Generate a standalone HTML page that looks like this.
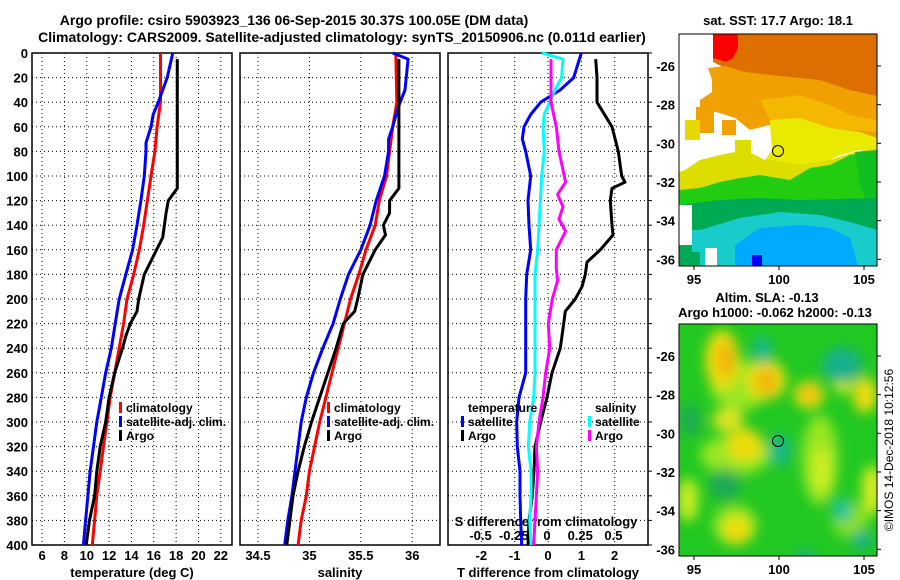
<!DOCTYPE html>
<html><head><meta charset="utf-8"><style>
body{margin:0;background:#fff;}
svg{display:block;font-family:"Liberation Sans",sans-serif;font-weight:bold;}
</style></head><body>
<svg id="c" width="900" height="580" viewBox="0 0 900 580" xmlns="http://www.w3.org/2000/svg">
<defs>
<filter id="bl" x="-50%" y="-50%" width="200%" height="200%"><feGaussianBlur stdDeviation="6"/></filter>
<clipPath id="cm1"><rect x="679" y="34" width="198" height="232"/></clipPath>
<clipPath id="cm2"><rect x="679" y="324" width="198" height="232"/></clipPath>
</defs>
<text x="294" y="25" font-size="14" text-anchor="middle">Argo profile: csiro 5903923_136 06-Sep-2015 30.37S 100.05E (DM data)</text>
<text x="342" y="42" font-size="14" text-anchor="middle">Climatology: CARS2009. Satellite-adjusted climatology: synTS_20150906.nc (0.011d earlier)</text>
<g id="plots"></g>
<!-- SST map -->
<g clip-path="url(#cm1)">
<rect x="679" y="34" width="198" height="232" fill="#fff"/>
<polygon points="713,34 877,34 877,98 850,92 820,82 790,78 760,76 740,72 725,68 713,62" fill="#dd6e00"/>
<polygon points="713,34 738,34 738,48 733,58 726,62 713,58" fill="#ff0000"/>
<polygon points="708,68 725,66 745,72 780,76 820,80 850,90 877,96 877,140 840,135 800,128 770,125 750,130 735,118 716,112 700,110 700,100 712,92 712,80" fill="#f0a000"/>
<polygon points="760,100 800,95 830,105 850,115 877,120 877,132 850,130 820,130 790,125 770,120" fill="#f5b800"/>
<polygon points="770,120 800,118 830,128 860,132 877,138 877,152 860,150 840,155 820,165 790,170 770,172 760,165 770,150" fill="#eaea00"/>
<polygon points="685,170 700,160 720,155 745,150 770,160 800,165 830,160 855,152 877,148 877,205 679,205 679,172" fill="#dddd00"/>
<polygon points="679,190 700,188 720,182 740,178 760,175 790,180 810,168 830,165 850,155 877,150 877,205 850,205 800,208 760,205 720,210 679,212" fill="#22cc11"/>
<polygon points="855,152 877,150 877,200 868,205 860,185" fill="#11c020"/>
<polygon points="679,205 720,200 760,198 800,200 877,198 877,266 679,266" fill="#00aa55"/>
<polygon points="700,230 740,218 780,212 820,215 850,222 877,230 877,266 700,266" fill="#18cccc"/>
<polygon points="735,245 760,228 800,225 830,228 850,238 858,266 735,266" fill="#00aaff"/>
<polygon points="679,34 713,34 713,62 708,68 712,80 712,92 700,100 700,110 690,120 679,125" fill="#fff"/>
<polygon points="679,125 690,120 700,110 696,135 702,150 690,160 679,165" fill="#fff"/>
<polygon points="716,112 735,118 750,130 770,125 772,150 765,160 745,150 728,150 718,135" fill="#fff"/>
<rect x="696" y="107" width="18" height="26" fill="#f0a000"/>
<rect x="685" y="120" width="15" height="20" fill="#e6d800"/>
<rect x="722" y="120" width="14" height="15" fill="#f0a000"/>
<rect x="735" y="140" width="16" height="15" fill="#dddd00"/>
<rect x="679" y="205" width="13" height="40" fill="#fff"/>
<rect x="692" y="230" width="20" height="22" fill="#18cccc"/>
<rect x="705" y="248" width="12" height="18" fill="#fff"/>
<rect x="752" y="255" width="10" height="11" fill="#0000ff"/>
</g>
<rect x="679" y="34" width="198" height="232" fill="none" stroke="#000"/>
<circle cx="778" cy="151" r="5.5" fill="none" stroke="#000"/>
<text x="778" y="25" font-size="13" text-anchor="middle">sat. SST: 17.7 Argo: 18.1</text>
<!-- SLA map -->
<g clip-path="url(#cm2)">
<rect x="679" y="324" width="198" height="232" fill="#22c822"/>
<g filter="url(#bl)">
<ellipse cx="740" cy="385" rx="30" ry="25" fill="#99e622"/>
<ellipse cx="735" cy="455" rx="35" ry="20" fill="#99e622"/>
<ellipse cx="820" cy="460" rx="18" ry="45" fill="#99e622"/>
<ellipse cx="735" cy="525" rx="22" ry="20" fill="#99e622"/>
<ellipse cx="850" cy="520" rx="18" ry="18" fill="#88e022"/>
<ellipse cx="722" cy="360" rx="17" ry="30" fill="#eedd10"/>
<ellipse cx="726" cy="360" rx="8" ry="18" fill="#f0b010"/>
<ellipse cx="766" cy="380" rx="20" ry="20" fill="#eedd10"/>
<ellipse cx="766" cy="382" rx="10" ry="12" fill="#f0b010"/>
<ellipse cx="809" cy="395" rx="15" ry="14" fill="#eedd10"/>
<ellipse cx="809" cy="393" rx="7" ry="7" fill="#f0b010"/>
<ellipse cx="728" cy="420" rx="16" ry="12" fill="#dde420"/>
<ellipse cx="745" cy="445" rx="18" ry="16" fill="#eedd10"/>
<ellipse cx="865" cy="395" rx="12" ry="18" fill="#eedd10"/>
<ellipse cx="822" cy="470" rx="10" ry="22" fill="#ccee22"/>
<ellipse cx="737" cy="530" rx="14" ry="14" fill="#eedd10"/>
<ellipse cx="688" cy="500" rx="10" ry="22" fill="#ccee22"/>
<ellipse cx="872" cy="490" rx="10" ry="25" fill="#ddee22"/>
<ellipse cx="843" cy="382" rx="9" ry="12" fill="#ddee22"/>
<ellipse cx="762" cy="350" rx="10" ry="14" fill="#13b88a"/>
<ellipse cx="842" cy="365" rx="20" ry="18" fill="#13b08a"/>
<ellipse cx="780" cy="450" rx="11" ry="16" fill="#13b88a"/>
<ellipse cx="842" cy="510" rx="9" ry="12" fill="#18c0a0"/>
<ellipse cx="862" cy="540" rx="10" ry="10" fill="#13b08a"/>
<ellipse cx="805" cy="558" rx="10" ry="8" fill="#13b08a"/>
<ellipse cx="725" cy="485" rx="16" ry="16" fill="#1aaa55"/>
<ellipse cx="690" cy="420" rx="10" ry="16" fill="#1aaa55"/>
</g>
</g>
<rect x="679" y="324" width="198" height="232" fill="none" stroke="#000"/>
<circle cx="778" cy="441" r="5.5" fill="none" stroke="#000"/>
<text x="767" y="302" font-size="13" text-anchor="middle">Altim. SLA: -0.13</text>
<text x="775" y="317" font-size="13" text-anchor="middle">Argo h1000: -0.062 h2000: -0.13</text>
<text transform="translate(893,450) rotate(-90)" font-size="12" font-weight="normal" text-anchor="middle">©IMOS 14-Dec-2018 10:12:56</text>
<g id="maptx"></g>
</svg>
<script>
// ---- data ----
const tClimDepth=[0,40,60,80,100,140,160,180,200,220,240,260,280,300,320,340,360,380,400];
const tClim=[16.6,16.6,16.3,16.1,15.75,15.1,14.7,14.2,13.6,13.3,12.9,12.5,12.1,11.8,11.5,11.2,10.9,10.7,10.5];
const tSatDepth=[0,20,40,50,60,73,80,100,120,140,160,175,200,220,240,260,280,300,320,340,360,380,400];
const tSat=[17.7,17.2,16.4,15.95,15.75,15.3,15.3,15.15,14.85,14.5,14.1,13.65,12.9,12.55,12.2,11.7,11.3,10.9,10.6,10.3,10.1,9.9,9.7];
const tArgoDepth=[5,110,120,130,150,180,200,210,220,230,240,260,280,300,320,340,360,380,400];
const tArgo=[18.1,18.1,17.3,17.1,16.8,15.15,14.65,14.5,13.9,13.5,13.2,12.5,12.0,11.7,11.2,10.9,10.7,10.25,9.95];
const sClimDepth=[0,40,60,80,100,120,140,160,180,200,220,240,260,280,300,320,340,360,380,400];
const sClim=[35.84,35.85,35.81,35.78,35.75,35.68,35.64,35.55,35.48,35.4,35.34,35.28,35.22,35.16,35.1,35.05,35.0,34.97,34.92,34.89];
const sSatDepth=[0,5,30,45,60,70,80,100,120,140,160,180,200,220,240,260,280,300,320,340,360,380,400];
const sSat=[35.81,35.96,35.93,35.86,35.81,35.77,35.77,35.73,35.65,35.59,35.5,35.38,35.3,35.23,35.13,35.04,34.97,34.92,34.89,34.86,34.83,34.79,34.76];
const sArgoDepth=[5,110,120,130,140,148,160,180,200,210,220,240,260,280,300,320,340,360,380,400];
const sArgo=[35.87,35.87,35.78,35.78,35.72,35.74,35.64,35.52,35.47,35.44,35.33,35.26,35.18,35.1,35.02,34.95,34.89,34.84,34.81,34.78];
const dDepth=[5,20,40,60,80,100,105,110,120,140,148,160,170,180,190,200,210,220,240,260,280,300,320,340,360,380,400];
const dTArgo=[1.43,1.47,1.47,1.92,2.11,2.21,2.31,1.92,1.87,1.92,1.95,1.57,1.17,1.12,1.02,0.82,0.52,0.47,0.37,0.12,-0.03,-0.22,-0.39,-0.42,-0.47,-0.57,-0.6];
const dSatDepth=[0,20,30,40,50,60,70,80,100,120,140,160,180,200,260,280,300,320,340,360,380,400];
const dTSat=[1.0,0.77,0.37,-0.22,-0.52,-0.72,-0.77,-0.67,-0.52,-0.6,-0.57,-0.52,-0.64,-0.67,-0.67,-0.87,-0.94,-0.92,-0.84,-0.84,-0.82,-0.79];
const dSSatDepth=[0,5,20,30,40,50,60,80,100,120,140,160,180,260,280,300,320,340,360,380,400];
const dSSat=[-0.04,0.12,0.11,0.06,0.02,-0.02,-0.03,-0.02,-0.04,-0.05,-0.06,-0.07,-0.09,-0.09,-0.1,-0.13,-0.14,-0.12,-0.12,-0.13,-0.12];
const dSArgoDepth=[5,40,60,80,105,115,125,135,145,160,175,185,200,220,240,260,280,300,320,340,360,380,400];
const dSArgo=[0.03,0.03,0.07,0.09,0.14,0.08,0.12,0.09,0.14,0.07,0.07,0.08,0.04,0.01,0.02,-0.01,-0.03,-0.06,-0.08,-0.07,-0.08,-0.09,-0.1];
const depthTicks=[0,20,40,60,80,100,120,140,160,180,200,220,240,260,280,300,320,340,360,380,400];
const tTicks=[6,8,10,12,14,16,18,20,22];
const sTicks=[34.5,35,35.5,36];
const dTTicks=[-2,-1,0,1,2];
const dSTicks=[-0.5,-0.25,0,0.25,0.5];
const dSTickLabels=["-0.5","-0.25","0","0.25","0.5"];
// ---- layout ----
const NS="http://www.w3.org/2000/svg";
const Y0=53,Y1=545;
const yD=d=>Y0+(d/400)*(Y1-Y0);
const P1={x0:32,x1:232,min:5.1,max:23.0};
const P2={x0:240,x1:440,min:34.325,max:36.27};
const P3={x0:448,x1:648,min:-3.0,max:3.0};
const SD={min:-0.745,max:0.76};
const sx=(p,v)=>p.x0+(v-p.min)/(p.max-p.min)*(p.x1-p.x0);
const sdx=v=>P3.x0+(v-SD.min)/(SD.max-SD.min)*(P3.x1-P3.x0);
const g=document.getElementById('plots');
function mk(tag,at,parent){const e=document.createElementNS(NS,tag);for(const k in at)e.setAttribute(k,at[k]);(parent||g).appendChild(e);return e;}
function txt(x,y,s,anchor,size){const e=mk('text',{x:x,y:y,'font-size':size||13,'text-anchor':anchor||'middle'});e.textContent=s;return e;}
function panel(p,ticks,fx,labels,title,name){
  const fr=mk('rect',{x:p.x0,y:Y0,width:p.x1-p.x0,height:Y1-Y0,fill:'none',stroke:'#000','stroke-width':1.5});
  
  
  depthTicks.forEach(d=>{const y=yD(d);
    const l=mk('line',{x1:p.x0,x2:p.x1,y1:y,y2:y,stroke:'#000','stroke-dasharray':'1,3'});
    
    });
  ticks.forEach((v,i)=>{const x=fx(v);
    const l=mk('line',{x1:x,x2:x,y1:Y0,y2:Y1,stroke:'#000','stroke-dasharray':'1,3'});
    
    
    const t=txt(x,560,labels?labels[i]:String(v));
    
    });
  const t=txt((p.x0+p.x1)/2,577,title);
  
  
}
function line(p,f,depths,vals,color,name){
  const pts=depths.map((d,i)=>f(vals[i]).toFixed(1)+','+yD(d).toFixed(1)).join(' ');
  const e=mk('polyline',{points:pts,fill:'none',stroke:color,'stroke-width':3,'stroke-linejoin':'round'});
  
  
}
panel(P1,tTicks,v=>sx(P1,v),null,'temperature (deg C)','temperature-panel');
panel(P2,sTicks,v=>sx(P2,v),null,'salinity','salinity-panel');
panel(P3,dTTicks,v=>sx(P3,v),null,'T difference from climatology','difference-panel');
depthTicks.forEach(d=>{const t=txt(28,yD(d)+5,String(d),'end');
  
  });
depthTicks.forEach(d=>{const l=mk('line',{x1:648,x2:652,y1:yD(d),y2:yD(d),stroke:'#000'});
  
  });
let st=txt(546,526,'S difference from climatology');


dSTicks.forEach((v,i)=>{const t=txt(sdx(v),540,dSTickLabels[i]);
  
  });
line(P1,v=>sx(P1,v),tClimDepth,tClim,'#f00','temperature-climatology-line');
line(P1,v=>sx(P1,v),tSatDepth,tSat,'#00f','temperature-satellite-line');
line(P1,v=>sx(P1,v),tArgoDepth,tArgo,'#000','temperature-argo-line');
line(P2,v=>sx(P2,v),sClimDepth,sClim,'#f00','salinity-climatology-line');
line(P2,v=>sx(P2,v),sSatDepth,sSat,'#00f','salinity-satellite-line');
line(P2,v=>sx(P2,v),sArgoDepth,sArgo,'#000','salinity-argo-line');
line(P3,v=>sx(P3,v),dSatDepth,dTSat,'#00f','t-diff-satellite-line');
line(P3,v=>sx(P3,v),dDepth,dTArgo,'#000','t-diff-argo-line');
line(P3,sdx,dSSatDepth,dSSat,'#0ff','s-diff-satellite-line');
line(P3,sdx,dSArgoDepth,dSArgo,'#f0f','s-diff-argo-line');
function leg(x,y,color,label,name){
  const r=mk('rect',{x:x,y:y-10,width:3,height:11,fill:color});
  
  
  const t=txt(x+7,y,label,'start',12);
  
  
}
leg(119,412,'#f00','climatology','legend-climatology');
leg(119,426,'#00f','satellite-adj. clim.','legend-satellite-adj');
leg(119,440,'#000','Argo','legend-argo');
leg(327,412,'#f00','climatology','legend-s-climatology');
leg(327,426,'#00f','satellite-adj. clim.','legend-s-satellite-adj');
leg(327,440,'#000','Argo','legend-s-argo');
let lt=txt(468,412,'temperature','start',12);


leg(461,426,'#00f','satellite','legend-t-satellite');
leg(461,440,'#000','Argo','legend-t-argo');
lt=txt(595,412,'salinity','start',12);


leg(588,426,'#0ff','satellite','legend-s-satellite');
leg(588,440,'#f0f','Argo','legend-s-argo-diff');
const mt=document.getElementById('maptx');
const lats=[-26,-28,-30,-32,-34,-36];
const lons=[95,100,105];
[[66,259.3,34,266],[356,549.3,324,556]].forEach(m=>{
  lats.forEach((la,i)=>{const y=m[0]+(m[1]-m[0])*(-26-la)/10;
    const t=mk('text',{x:675,y:y+5,'font-size':13,'text-anchor':'end'},mt);t.textContent=String(la);
    
    
    const l=mk('line',{x1:877,x2:881,y1:y,y2:y,stroke:'#000'},mt);
    
    });
  lons.forEach(lo=>{const x=694+(lo-95)*17;
    const t=mk('text',{x:x,y:m[3]+18,'font-size':13,'text-anchor':'middle'},mt);t.textContent=String(lo);
    
    
    const l=mk('line',{x1:x,x2:x,y1:m[3],y2:m[3]+4,stroke:'#000'},mt);
    
    });
});
</script>
</body></html>
